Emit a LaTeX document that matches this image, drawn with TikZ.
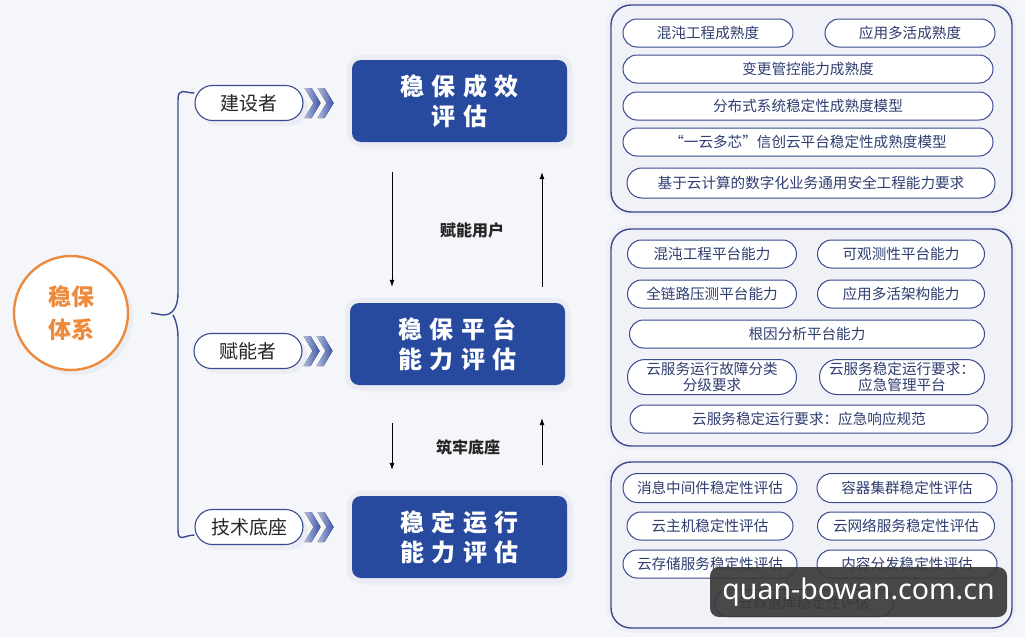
\documentclass[tikz,border=0pt]{standalone}
\usepackage{fontspec}
\setmainfont{Noto Sans CJK SC}
\newfontfamily\boxfont[LetterSpace=30]{Noto Sans CJK SC}
\newfontfamily\markfont{Noto Sans}
\usepackage{tikz}
\usetikzlibrary{
  arrows.meta,
  calc,
  shapes.misc,
  shadows
}
\definecolor{pagebg}{HTML}{F4F6F9}
\definecolor{navyline}{HTML}{3A4A8E}
\definecolor{boxblue}{HTML}{284A9E}
\definecolor{itemtext}{HTML}{2F3D70}
\definecolor{sysorange}{HTML}{EE8A3C}
\definecolor{halo}{HTML}{E4E6F0}
\definecolor{panelfill}{HTML}{F0F2F7}
\definecolor{chevblue}{HTML}{3D55A6}
\definecolor{markgray}{HTML}{3A3A3A}
\tikzset{
  syscircle/.style={
    circle,
    draw=sysorange,
    line width=2.4pt,
    fill=white,
    minimum size=114pt,
    align=center,
    text=sysorange,
    font=\bfseries\fontsize{23}{33}\selectfont,
    drop shadow={shadow xshift=5pt,shadow yshift=-5pt,fill=halo}
  },
  rolepill/.style={
    rounded rectangle,
    draw=navyline,
    line width=1.1pt,
    fill=white,
    minimum width=108pt,
    minimum height=35pt,
    inner sep=0pt,
    text=black!85,
    font=\fontsize{19}{21}\selectfont,
    drop shadow={shadow xshift=5pt,shadow yshift=-5pt,fill=halo}
  },
  evalbox/.style={
    fill=boxblue,
    rounded corners=9pt,
    minimum width=215pt,
    minimum height=82pt,
    align=center,
    text=white,
    font=\boxfont\bfseries\fontsize{24}{30}\selectfont,
    preaction={draw=halo!70,line width=10pt},
    drop shadow={shadow xshift=7pt,shadow yshift=-7pt,fill=halo!80}
  },
  groupbox/.style={
    draw=navyline,
    line width=1.4pt,
    fill=panelfill,
    rounded corners=20pt,
    minimum width=401pt,
    preaction={draw=halo!60,line width=9pt}
  },
  itempill/.style={
    rounded rectangle,
    draw=navyline,
    line width=1pt,
    fill=white,
    minimum height=28pt,
    inner sep=0pt,
    align=center,
    text=itemtext,
    font=\fontsize{14.6}{15.5}\selectfont
  },
  flowarrow/.style={-{Latex[length=7pt,width=5pt]},line width=0.8pt,draw=black},
  flowlabel/.style={text=black!85,font=\bfseries\fontsize{16}{18}\selectfont},
  bracket/.style={draw=navyline,line width=1.4pt},
  chevron/.style={left color=white!60!chevblue,right color=chevblue,draw=none},
  watermark/.style={
    fill=markgray,
    fill opacity=0.92,
    text opacity=1,
    rounded corners=9pt,
    minimum width=297pt,
    minimum height=50pt,
    text=white,
    font=\markfont\fontsize{28.5}{30}\selectfont
  }
}

\begin{document}
\begin{tikzpicture}[x=1pt,y=-1pt]
  \useasboundingbox (0,0) rectangle (1025,637);
  \fill[pagebg] (0,0) rectangle (1025,637);

  % Root and roles
  \node[syscircle] (sys) at (71,313) {稳保\\体系};
  \node[rolepill] (builder) at (249,103) {建设者};
  \node[rolepill] (enabler) at (248,351) {赋能者};
  \node[rolepill] (base) at (249,527) {技术底座};
  \coordinate (knot) at (178,315);
  \draw[bracket] ([xshift=22pt]sys.east) -- ([xshift=-15pt]knot)
    .. controls ([xshift=-5pt]knot) and ([yshift=8pt]knot) .. ([yshift=22pt]knot)
    -- ([yshift=-15pt]knot |- builder.north)
    .. controls ([yshift=-2pt]knot |- builder.north) and ([xshift=-10pt,yshift=10pt]builder.west)
    .. ([yshift=10pt]builder.west);
  \draw[bracket] ([xshift=-5pt]knot)
    .. controls ([xshift=-5pt]knot) and ([yshift=-8pt]knot) .. ([yshift=-22pt]knot)
    -- ([yshift=15pt]knot |- base.south)
    .. controls ([yshift=2pt]knot |- base.south) and ([xshift=-10pt,yshift=-8pt]base.west)
    .. ([yshift=-8pt]base.west);
  \foreach \p in {builder,enabler,base}{
    \foreach \dx in {1,14}{
      \fill[chevron] ([xshift=\dx pt]\p.east) ++(0,-15) -- ++(7,0) -- ++(9,15)
        -- ++(-9,15) -- ++(-7,0) -- ++(9,-15) -- cycle;
    }
  }

  % Evaluation column
  \node[evalbox] (effect) at (459.5,101) {稳保成效\\评估};
  \node[evalbox] (platform) at (457.5,344) {稳保平台\\能力评估};
  \node[evalbox] (runtime) at (459.5,537) {稳定运行\\能力评估};
  \coordinate (downx) at (392,0);
  \coordinate (upx) at (542,0);
  \draw[flowarrow,shorten <=30pt,shorten >=16pt] (effect.south -| downx) -- (platform.north -| downx);
  \draw[flowarrow,shorten <=16pt,shorten >=30pt] (platform.north -| upx) -- (effect.south -| upx);
  \draw[flowarrow,shorten <=38pt,shorten >=26pt] (platform.south -| downx) -- (runtime.north -| downx);
  \draw[flowarrow,shorten <=31pt,shorten >=33pt] (runtime.north -| upx) -- (platform.south -| upx);
  \node[flowlabel] (feed) at (472,230) {赋能用户};
  \node[flowlabel] (found) at (468,447) {筑牢底座};

  % Maturity panel
  \node[groupbox,minimum height=207pt] (effpanel) at (811.5,108.5) {};
  \node[itempill,minimum width=170pt] (m1) at (708,33) {混沌工程成熟度};
  \node[itempill,minimum width=170pt] (m2) at (910,33) {应用多活成熟度};
  \node[itempill,minimum width=370pt] (m3) at (808,69) {变更管控能力成熟度};
  \node[itempill,minimum width=370pt] (m4) at (808,106) {分布式系统稳定性成熟度模型};
  \node[itempill,minimum width=370pt] (m5) at (808,142) {“一云多芯”信创云平台稳定性成熟度模型};
  \node[itempill,minimum width=368pt,minimum height=30pt] (m6) at (811,183) {基于云计算的数字化业务通用安全工程能力要求};

  % Platform panel
  \node[groupbox,minimum height=217pt] (platpanel) at (811.5,337.5) {};
  \node[itempill,minimum width=169pt] (p1) at (712,254) {混沌工程平台能力};
  \node[itempill,minimum width=167pt] (p2) at (901,254) {可观测性平台能力};
  \node[itempill,minimum width=169pt] (p3) at (712,294) {全链路压测平台能力};
  \node[itempill,minimum width=167pt] (p4) at (901,294) {应用多活架构能力};
  \node[itempill,minimum width=355pt] (p5) at (807,334) {根因分析平台能力};
  \node[itempill,minimum width=169pt,minimum height=35pt] (p6) at (712,377) {云服务运行故障分类\\分级要求};
  \node[itempill,minimum width=165pt,minimum height=35pt] (p7) at (902,377) {云服务稳定运行要求：\\应急管理平台};
  \node[itempill,minimum width=358pt] (p8) at (809,419) {云服务稳定运行要求：应急响应规范};

  % Runtime panel
  \node[groupbox,minimum height=166pt] (runpanel) at (811.5,545) {};
  \node[itempill,minimum width=174pt,minimum height=29pt] (r1) at (710,488) {消息中间件稳定性评估};
  \node[itempill,minimum width=180pt,minimum height=29pt] (r2) at (907,488) {容器集群稳定性评估};
  \node[itempill,minimum width=166pt] (r3) at (710,526) {云主机稳定性评估};
  \node[itempill,minimum width=177pt] (r4) at (906,526) {云网络服务稳定性评估};
  \node[itempill,minimum width=174pt] (r5) at (710,564) {云存储服务稳定性评估};
  \node[itempill,minimum width=180pt] (r6) at (907,564) {内容分发稳定性评估};
  \node[itempill,minimum width=178pt,minimum height=27pt] (r7) at (804,603) {云数据库稳定性评估};

  \node[watermark] (wm) at (858.5,592) {quan-bowan.com.cn};
\end{tikzpicture}
\end{document}
